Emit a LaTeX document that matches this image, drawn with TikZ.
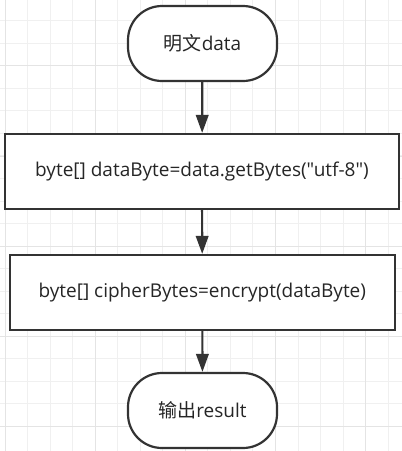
\documentclass[tikz,border=0pt]{standalone}
\usepackage{fontspec}
\setmainfont{Open Sans}[Ligatures=TeXOff]
\newfontfamily\cjk{Noto Sans CJK SC}
\usetikzlibrary{arrows.meta, positioning}

\definecolor{edgegray}{HTML}{333333}
\definecolor{gridminor}{HTML}{F0F0F0}
\definecolor{gridmajor}{HTML}{E4E4E4}

\begin{document}
\begin{tikzpicture}[
  x=1pt, y=-1pt,
  term/.style={rectangle, draw=edgegray, line width=2.2pt, fill=white,
               rounded corners=34pt, minimum width=149pt, minimum height=75pt,
               inner sep=0pt, font=\fontsize{19}{22}\selectfont, text=black!85},
  proc/.style={rectangle, draw=edgegray, line width=2.2pt, fill=white,
               minimum height=75pt, inner sep=0pt,
               font=\fontsize{19}{22}\selectfont, text=black!85},
  arr/.style={draw=edgegray, line width=2.2pt,
              -{Triangle[length=18pt, width=12.5pt]}},
  minorline/.style={gridminor, line width=0.9pt},
  majorline/.style={gridmajor, line width=0.9pt}
]
  % Background and grid
  \useasboundingbox (0,0) rectangle (402,451);
  \fill[white] (0,0) rectangle (402,451);
  \foreach \gx in {0,...,17}
    \draw[minorline] (5+22.54*\gx,0) -- (5+22.54*\gx,451);
  \foreach \gy in {0,...,18}
    \draw[minorline] (0,20.7+22.54*\gy) -- (402,20.7+22.54*\gy);
  \foreach \gx in {0,...,4}
    \draw[majorline] (5+90.16*\gx,0) -- (5+90.16*\gx,451);
  \foreach \gy in {0,...,4}
    \draw[majorline] (0,65.8+90.16*\gy) -- (402,65.8+90.16*\gy);

  % Start
  \node[term] (input) at (202.5,43.5) {{\cjk 明文}data};

  % Conversion steps
  \node[proc, minimum width=394pt] (getbytes) at (202,171.5)
    {byte[] dataByte=data.getBytes("utf-8")};
  \node[proc, minimum width=385pt] (encrypt) at (202.3,292.5)
    {byte[] cipherBytes=encrypt(dataByte)};

  % End
  \node[term] (output) at (202.5,410.5) {{\cjk 输出}result};

  % Arrows
  \draw[arr] (input) -- (getbytes);
  \draw[arr] (getbytes) -- (encrypt);
  \draw[arr] (encrypt) -- (output);
\end{tikzpicture}
\end{document}
